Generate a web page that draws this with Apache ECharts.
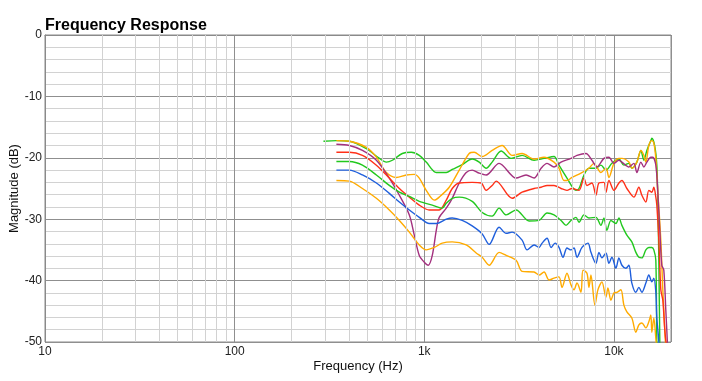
<!DOCTYPE html>
<html>
<head>
<meta charset="utf-8">
<script src="https://cdn.jsdelivr.net/npm/echarts@6/dist/echarts.min.js"></script>
<style>
html,body{margin:0;padding:0;background:#fff;}
#chart{width:702px;height:381px;}
</style>
</head>
<body>
<div id="chart"></div>
<script>
// Tick labels
const xTickLabels = {10:'10',100:'100',1000:'1k',10000:'10k'};
const minorFreqs = [20,30,40,50,60,70,80,90,200,300,400,500,600,700,800,900,2000,3000,4000,5000,6000,7000,8000,9000];

// Series data: [frequency Hz, magnitude dB]
const green1 = [[294,-17.3],[344,-17.2],[403,-17.3],[495,-18.5],[580,-20.1],[631,-20.7],[679,-20.4],[766,-19.3],[854,-19.1],[941,-19.6],[1024,-20.7],[1157,-22.4],[1306,-22.4],[1404,-21.9],[1585,-21.1],[1789,-20.2],[1948,-20.7],[2120,-21.7],[2280,-20.7],[2543,-18.9],[2871,-20.1],[3280,-19.6],[3793,-20.4],[4282,-20.1],[4833,-19.8],[5135,-21.2],[5656,-23.3],[6310,-25.3],[6544,-25.0],[6952,-22.8],[7385,-21.7],[8039,-21.7],[8541,-21.2],[9077,-22.0],[9761,-20.9],[10625,-20.2],[11288,-21.2],[11993,-20.9],[12432,-21.7],[13215,-20.7],[13871,-18.8],[14384,-20.4],[14917,-18.8],[15657,-17.2],[15849,-16.8],[16400,-18.0],[16838,-21.2],[17044,-26.9],[17252,-36.7],[17462,-50],[17675,-56]];
const orange1 = [[344,-17.2],[403,-17.3],[495,-18.3],[559,-19.9],[631,-22.4],[712,-23.2],[804,-22.8],[886,-22.7],[941,-23.3],[1024,-25.3],[1129,-26.9],[1199,-26.4],[1354,-24.8],[1529,-22.0],[1725,-19.3],[1833,-19.1],[2020,-19.8],[2280,-18.8],[2574,-18.0],[2906,-19.6],[3280,-19.3],[3793,-20.2],[4282,-19.9],[4833,-20.7],[5135,-21.7],[5456,-23.7],[5656,-23.7],[6010,-23.2],[6705,-22.5],[7385,-21.7],[7845,-20.9],[8541,-22.4],[9077,-21.7],[9413,-23.2],[10000,-20.9],[10625,-20.1],[11018,-20.1],[11993,-20.7],[12432,-21.7],[13215,-20.7],[13871,-18.8],[14384,-19.6],[14737,-20.7],[15283,-18.0],[15849,-17.2],[16238,-17.6],[16635,-20.1],[17044,-25.6],[17675,-33.4],[18108,-41.5],[18552,-48.1],[18777,-51.5],[19006,-56]];
const purple = [[344,-17.8],[403,-18.0],[472,-18.8],[559,-20.4],[654,-23.3],[739,-26.1],[834,-29.3],[886,-32.6],[941,-35.9],[1000,-37.0],[1050,-37.5],[1102,-35.9],[1157,-31.8],[1199,-29.7],[1306,-28.2],[1404,-26.6],[1529,-24.1],[1664,-22.4],[1789,-22.0],[1948,-22.5],[2120,-22.8],[2481,-20.9],[3050,-23.3],[3442,-22.8],[3793,-23.3],[4129,-21.7],[4441,-20.9],[4833,-21.5],[5262,-20.7],[5939,-20.1],[6388,-19.6],[7122,-19.3],[7658,-20.4],[8137,-21.5],[8858,-20.1],[9413,-19.9],[10000,-20.9],[10625,-20.4],[11018,-20.7],[11993,-21.5],[12743,-20.9],[13215,-22.4],[13871,-20.7],[14384,-21.5],[14917,-20.7],[15657,-19.9],[16043,-19.9],[16635,-21.2],[17044,-25.6],[17462,-31.8],[17889,-37.5],[18328,-38.3],[18777,-44.8],[19237,-51.5],[19471,-56]];
const red = [[344,-19.1],[403,-19.1],[472,-19.6],[559,-21.2],[654,-23.3],[739,-25.0],[834,-26.4],[941,-27.7],[1062,-28.5],[1199,-28.5],[1306,-26.9],[1404,-25.0],[1529,-24.1],[1789,-24.0],[1995,-24.1],[2120,-25.3],[2280,-24.5],[2393,-23.8],[2906,-26.6],[3280,-25.6],[3793,-25.0],[4129,-24.8],[4441,-24.5],[4833,-24.5],[5262,-25.0],[5656,-25.3],[6010,-25.0],[6544,-25.3],[6952,-23.3],[7209,-24.5],[7658,-24.1],[8039,-26.1],[8337,-24.1],[8858,-24.0],[9077,-25.6],[9413,-23.7],[10000,-25.3],[10625,-24.1],[11018,-23.7],[11706,-25.0],[12743,-26.4],[13539,-24.8],[14040,-26.1],[14737,-27.2],[15283,-25.3],[15849,-25.6],[16238,-24.8],[16635,-26.4],[16838,-27.7],[17252,-33.4],[17675,-41.5],[18108,-43.2],[18552,-48.1],[19006,-51.5],[19237,-56]];
const green2 = [[344,-20.6],[403,-20.6],[472,-21.2],[559,-22.8],[654,-24.5],[739,-25.6],[834,-26.3],[941,-27.1],[1102,-27.7],[1244,-28.2],[1306,-27.4],[1404,-26.6],[1529,-26.4],[1789,-27.1],[2020,-28.9],[2280,-29.5],[2481,-28.2],[2702,-29.3],[3050,-28.5],[3570,-30.3],[4030,-30.2],[4441,-29.0],[4833,-29.3],[5262,-30.2],[5591,-31.0],[5939,-30.2],[6310,-29.7],[6544,-30.5],[6952,-29.3],[7385,-29.8],[8039,-29.7],[8541,-31.0],[8858,-29.8],[9187,-31.8],[9643,-30.2],[10245,-30.7],[10625,-29.8],[11018,-31.0],[11706,-32.6],[12432,-33.7],[13056,-35.4],[13539,-36.2],[14040,-36.3],[14737,-35.0],[15283,-34.6],[15849,-34.6],[16238,-35.0],[16635,-36.7],[16838,-50],[17044,-56]];
const blue = [[344,-22.0],[403,-22.0],[472,-22.8],[559,-24.1],[654,-25.8],[739,-27.2],[834,-28.5],[941,-29.7],[1062,-30.7],[1157,-30.7],[1306,-30.0],[1404,-29.8],[1585,-30.2],[1789,-31.1],[2020,-32.4],[2199,-34.1],[2481,-31.3],[2702,-32.3],[2906,-32.1],[3280,-33.4],[3484,-35.0],[3793,-34.2],[4030,-34.6],[4180,-33.9],[4441,-33.1],[4661,-34.6],[4893,-33.9],[5135,-34.6],[5390,-36.2],[5656,-34.7],[5939,-35.0],[6160,-34.7],[6388,-36.2],[6786,-34.6],[7296,-33.9],[7566,-35.4],[8039,-37.2],[8337,-35.4],[8645,-36.3],[9077,-35.5],[9413,-37.2],[9761,-36.2],[10245,-38.0],[10625,-36.3],[11018,-37.5],[11565,-38.0],[11993,-37.5],[12432,-40.4],[13056,-41.9],[13539,-41.1],[14040,-41.9],[14737,-40.4],[15283,-39.1],[15849,-40.2],[16238,-39.6],[16635,-41.9],[16838,-46.1],[17252,-50],[17462,-56]];
const orange2 = [[344,-23.7],[403,-23.8],[472,-25.0],[559,-26.6],[654,-28.5],[739,-30.2],[834,-32.1],[941,-34.2],[1024,-35.0],[1129,-34.6],[1244,-33.9],[1404,-33.7],[1664,-34.2],[1878,-35.5],[2020,-36.2],[2199,-37.5],[2481,-35.4],[2702,-35.9],[3050,-36.7],[3280,-38.5],[3793,-38.6],[4030,-39.1],[4282,-38.6],[4550,-39.9],[4833,-39.6],[5135,-39.4],[5325,-41.1],[5656,-38.8],[5939,-40.7],[6160,-41.5],[6388,-40.4],[6705,-41.9],[6869,-38.3],[7209,-38.8],[7385,-41.1],[7566,-39.1],[7943,-44.0],[8236,-41.5],[8645,-40.2],[9077,-42.7],[9299,-41.2],[9643,-43.2],[10000,-42.0],[10370,-41.9],[10885,-41.5],[11288,-44.0],[11706,-45.1],[12432,-46.1],[13056,-48.4],[13539,-47.2],[14040,-46.9],[14737,-47.7],[15283,-46.7],[15657,-45.6],[15849,-48.4],[16238,-46.1],[16635,-49.4],[16838,-51.5],[17044,-56]];

const curves = [
  {data: green1, color: '#22c81e'},
  {data: orange1, color: '#ffab00'},
  {data: purple, color: '#a3307e'},
  {data: red, color: '#ff3018'},
  {data: green2, color: '#22c81e'},
  {data: blue, color: '#1f5fdc'},
  {data: orange2, color: '#ffab00'}
];

const chart = echarts.init(document.getElementById('chart'), null, {renderer: 'canvas'});
const FONT = '"Liberation Sans", Arial, Helvetica, sans-serif';

const series = [{
  type: 'line',
  data: [],
  z: 1,
  silent: true,
  markLine: {
    silent: true,
    symbol: ['none', 'none'],
    label: {show: false},
    lineStyle: {color: '#d2d2d2', width: 1, type: 'solid'},
    emphasis: {disabled: true},
    data: minorFreqs.map(f => ({xAxis: f}))
  }
}];
curves.forEach(c => {
  series.push({
    type: 'line',
    data: c.data,
    showSymbol: false,
    smooth: 0.3,
    clip: true,
    z: 3,
    lineStyle: {color: c.color, width: 1.4},
    itemStyle: {color: c.color}
  });
});

chart.setOption({
  animation: false,
  backgroundColor: '#ffffff',
  title: {
    text: 'Frequency Response',
    left: 40,
    top: 13,
    textStyle: {fontFamily: FONT, fontSize: 16, fontWeight: 'bold', color: '#000'}
  },
  grid: {left: 45, right: 31, top: 35, bottom: 39, containLabel: false, outerBoundsMode: 'none', show: true, borderColor: '#8a8a8a', borderWidth: 1, backgroundColor: 'transparent'},
  xAxis: {
    type: 'log',
    logBase: 10,
    min: 10,
    max: 20000,
    name: 'Frequency (Hz)',
    nameLocation: 'middle',
    nameGap: 18,
    nameMoveOverlap: false,
    nameTextStyle: {fontFamily: FONT, fontSize: 13, color: '#111'},
    axisLine: {show: true, lineStyle: {color: '#8a8a8a'}},
    axisTick: {show: false},
    axisLabel: {
      fontFamily: FONT, fontSize: 12, color: '#222', margin: 4,
      showMaxLabel: false,
      formatter: v => xTickLabels[Math.round(v)] || ''
    },
    splitLine: {show: true, lineStyle: {color: '#8f8f8f', width: 1}}
  },
  yAxis: {
    type: 'value',
    min: -50,
    max: 0,
    interval: 10,
    name: 'Magnitude (dB)',
    nameLocation: 'middle',
    nameGap: 24,
    nameMoveOverlap: false,
    nameRotate: 90,
    nameTextStyle: {fontFamily: FONT, fontSize: 13, color: '#111'},
    axisLine: {show: true, lineStyle: {color: '#8a8a8a'}},
    axisTick: {show: false},
    axisLabel: {fontFamily: FONT, fontSize: 12, color: '#222', margin: 3},
    splitLine: {show: true, lineStyle: {color: '#8f8f8f', width: 1}},
    minorTick: {show: false, splitNumber: 5},
    minorSplitLine: {show: true, lineStyle: {color: '#d2d2d2', width: 1}}
  },
  series: series
});
</script>
</body>
</html>
